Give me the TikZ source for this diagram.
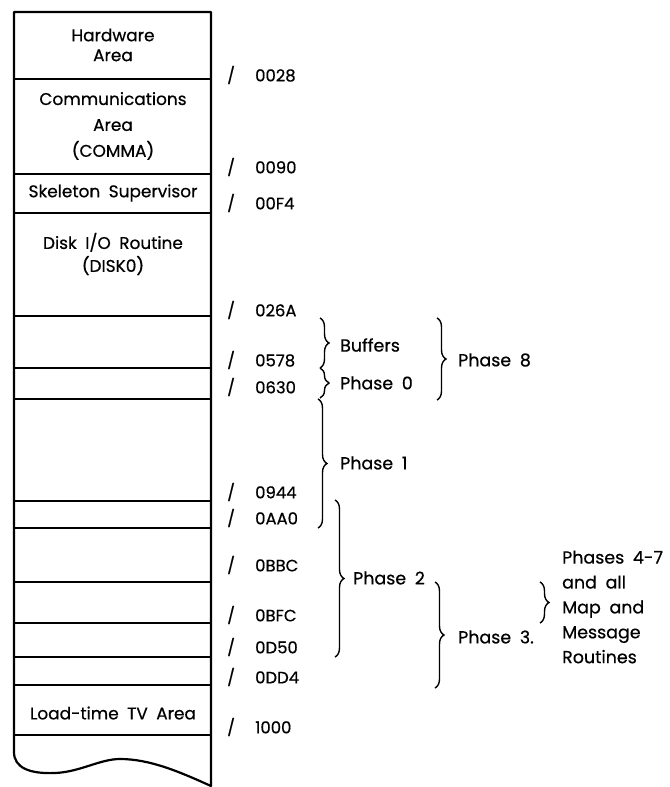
\documentclass[tikz,border=0pt]{standalone}
\usepackage{fontspec}
\setmainfont{Poppins}[FakeBold=0.6]
\usetikzlibrary{decorations.pathreplacing}
\newcommand{\wsp}{\spaceskip=0.5em plus 0.1em\relax}
\begin{document}
\begin{tikzpicture}[x=1bp,y=-1bp,
  box/.style={line width=2.2bp, line join=round},
  sep/.style={line width=2.2bp},
  lbl/.style={font=\fontsize{17}{21}\selectfont\wsp, align=center, inner sep=0},
  addr/.style={font=\fontsize{16.5}{16}\selectfont, anchor=west, inner sep=0},
  txt/.style={font=\fontsize{17.5}{25}\selectfont\wsp, anchor=west, inner sep=0, align=left},
  br/.style={decorate, decoration={brace, amplitude=9bp}, line width=1.4bp},
  ]
\useasboundingbox (0,0) rectangle (670,787);
% column outline
\draw[box] (14,12) -- (14,752) .. controls (14,768) and (30,774) .. (55,773)
  .. controls (80,772) and (100,759) .. (120,759)
  .. controls (150,759) and (180,772) .. (211,786) -- (211,12) -- cycle;
% separators
\foreach \y in {79,174,213,316,368,399,501,528,582,623,657,685,735}
  \draw[sep] (14,\y) -- (211,\y);
% box labels
\node[lbl, font=\fontsize{17}{20}\selectfont] (hw) at (113,45) {Hardware\\Area};
\node[lbl, font=\fontsize{17}{26}\selectfont] (comma) at (113,126) {Communications\\Area\\(COMMA)};
\node[lbl] (skel) at (113,193) {Skeleton Supervisor};
\node[lbl, font=\fontsize{17}{23}\selectfont\wsp] (disk) at (113,254) {Disk I/O Routine\\(DISK0)};
\node[lbl] (tv) at (113,713) {Load-time TV Area};
% addresses
\node[addr] (a1) at (227,75) {\makebox[28bp][l]{/}0028};
\node[addr] (a2) at (227,167) {\makebox[28bp][l]{/}0090};
\node[addr] (a3) at (227,203) {\makebox[28bp][l]{/}00F4};
\node[addr] (a4) at (227,310) {\makebox[28bp][l]{/}026A};
\node[addr] (a5) at (227,360) {\makebox[28bp][l]{/}0578};
\node[addr] (a6) at (227,387) {\makebox[28bp][l]{/}0630};
\node[addr] (a7) at (227,492) {\makebox[28bp][l]{/}0944};
\node[addr] (a8) at (227,518) {\makebox[28bp][l]{/}0AA0};
\node[addr] (a9) at (227,565) {\makebox[28bp][l]{/}0BBC};
\node[addr] (a10) at (227,615) {\makebox[28bp][l]{/}0BFC};
\node[addr] (a11) at (227,647) {\makebox[28bp][l]{/}0D50};
\node[addr] (a12) at (227,677) {\makebox[28bp][l]{/}0DD4};
\node[addr] (a13) at (227,727) {\makebox[28bp][l]{/}1000};
% braces
\draw[br] (320,318) -- (320,368);
\draw[br] (320,368) -- (320,398);
\draw[br] (318,399) -- (318,528);
\draw[br] (437,318) -- (437,400);
\draw[br] (335,500) -- (335,657);
\draw[br] (435,582) -- (435,688);
\draw[br] (540,582) -- (540,623);
% brace labels
\node[txt] (buf) at (340,345) {Buffers};
\node[txt] (p0) at (340,383) {Phase 0};
\node[txt] (p1) at (340,463) {Phase 1};
\node[txt] (p8) at (458,360) {Phase 8};
\node[txt] (p2) at (353,578) {Phase 2};
\node[txt] (p3) at (458,637) {Phase 3.};
\node[txt] (p47) at (562,607) {Phases 4-7\\and all\\Map and\\Message\\Routines};
\end{tikzpicture}
\end{document}
